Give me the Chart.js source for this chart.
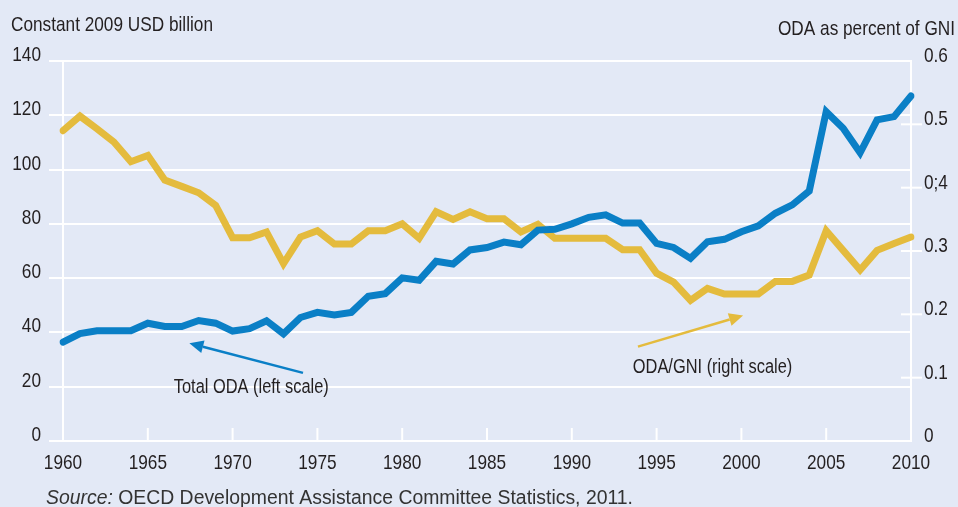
<!DOCTYPE html>
<html>
<head>
<meta charset="utf-8">
<script src="https://cdn.jsdelivr.net/npm/chart.js@4/dist/chart.umd.min.js"></script>
<style>
  html, body { margin: 0; padding: 0; background: #e3e9f6; }
  #wrap { width: 958px; height: 507px; position: relative; }
</style>
</head>
<body>
<div id="wrap"><canvas id="odaChart" width="958" height="507"></canvas></div>
<script>
// data
const years = [];
for (let y = 1960; y <= 2010; y++) years.push(y);

// total ODA, constant 2009 USD billion (left scale)
const totalOda = [
  36.4, 39.6, 40.6, 40.6, 40.6, 43.4, 42.2, 42.2, 44.4, 43.4,
  40.5, 41.4, 44.3, 39.5, 45.5, 47.4, 46.4, 47.4, 53.3, 54.3,
  60.1, 59.2, 66.2, 65.2, 70.4, 71.3, 73.3, 72.3, 77.7, 78.0,
  80.0, 82.4, 83.3, 80.3, 80.3, 72.8, 71.3, 67.3, 73.4, 74.3,
  77.1, 79.3, 83.9, 87.0, 92.1, 121.3, 115.2, 106.2, 118.3, 119.5,
  127.1
];

// ODA as percent of GNI (right scale)
const odaGni = [
  0.490, 0.513, 0.493, 0.472, 0.441, 0.451, 0.412, 0.402, 0.392, 0.372,
  0.321, 0.321, 0.330, 0.280, 0.322, 0.332, 0.311, 0.311, 0.332, 0.332,
  0.343, 0.320, 0.362, 0.350, 0.362, 0.351, 0.351, 0.330, 0.342, 0.320,
  0.320, 0.320, 0.320, 0.302, 0.302, 0.265, 0.251, 0.222, 0.241, 0.232,
  0.232, 0.232, 0.252, 0.252, 0.262, 0.332, 0.301, 0.270, 0.301, 0.312,
  0.322
];

const leftTicks = [0, 20, 40, 60, 80, 100, 120, 140];
const rightTicks = [0, 0.1, 0.2, 0.3, 0.4, 0.5, 0.6];
const rightTickLabels = ['0', '0.1', '0.2', '0.3', '0;4', '0.5', '0.6'];

const BLUE = '#0a7fc6';
const GOLD = '#e4bb3d';
const INK = '#231f20';
const SANS = "'Liberation Sans', Arial, sans-serif";

// no narrow font installed: squeeze Liberation Sans like Arial Narrow
function narrowText(ctx, text, x, y, align, size) {
  ctx.save();
  ctx.translate(x, y);
  ctx.scale(0.82, 1);
  ctx.font = size + 'px ' + SANS;
  ctx.textAlign = align;
  ctx.textBaseline = 'alphabetic';
  ctx.fillText(text, 0, 0);
  ctx.restore();
}

// small white tick marks inside the plot (x axis) and across the right axis
const innerTicks = {
  id: 'innerTicks',
  beforeDatasetsDraw(chart) {
    const { ctx, chartArea, scales } = chart;
    ctx.save();
    ctx.strokeStyle = '#ffffff';
    ctx.lineWidth = 2;
    years.forEach((yr, i) => {
      if (yr % 5 !== 0 || yr === 1960 || yr === 2010) return;
      const x = scales.x.getPixelForValue(i);
      ctx.beginPath();
      ctx.moveTo(x, chartArea.bottom);
      ctx.lineTo(x, chartArea.bottom - 13);
      ctx.stroke();
    });
    rightTicks.slice(1, -1).forEach(v => {
      const y = scales.y2.getPixelForValue(v);
      ctx.beginPath();
      ctx.moveTo(chartArea.right - 10, y);
      ctx.lineTo(chartArea.right + 11, y);
      ctx.stroke();
    });
    ctx.restore();
  }
};

function arrow(ctx, x1, y1, x2, y2, color) {
  const ang = Math.atan2(y2 - y1, x2 - x1);
  const len = 14, half = 6.5;
  const bx = x2 - len * Math.cos(ang), by = y2 - len * Math.sin(ang);
  ctx.strokeStyle = color;
  ctx.fillStyle = color;
  ctx.lineWidth = 2.5;
  ctx.beginPath();
  ctx.moveTo(x1, y1);
  ctx.lineTo(bx, by);
  ctx.stroke();
  ctx.beginPath();
  ctx.moveTo(x2, y2);
  ctx.lineTo(bx + half * Math.sin(ang), by - half * Math.cos(ang));
  ctx.lineTo(bx - half * Math.sin(ang), by + half * Math.cos(ang));
  ctx.closePath();
  ctx.fill();
}

const labelsAndNotes = {
  id: 'labelsAndNotes',
  afterDraw(chart) {
    const { ctx, scales, chartArea } = chart;
    const x = scales.x, y = scales.y, y2 = scales.y2;
    const xAt = yr => x.getPixelForValue(yr - 1960);
    ctx.save();
    ctx.fillStyle = INK;

    // tick labels
    leftTicks.forEach(v => narrowText(ctx, String(v), 41, y.getPixelForValue(v), 'right', 21));
    rightTicks.forEach((v, i) => narrowText(ctx, rightTickLabels[i], chartArea.right + 13, y2.getPixelForValue(v) + 1, 'left', 21));
    years.forEach((yr, i) => {
      if (yr % 5 === 0) narrowText(ctx, String(yr), x.getPixelForValue(i), 469, 'center', 21);
    });

    // axis titles
    narrowText(ctx, 'Constant 2009 USD billion', 11, 30.5, 'left', 21);
    narrowText(ctx, 'ODA as percent of GNI', 955, 35, 'right', 21);

    // series labels with arrows
    arrow(ctx, xAt(1974.15), y.getPixelForValue(25.1), xAt(1967.45), y.getPixelForValue(36.0), BLUE);
    arrow(ctx, xAt(1993.9), y2.getPixelForValue(0.149), xAt(2000.1), y2.getPixelForValue(0.198), GOLD);
    ctx.fillStyle = INK;
    narrowText(ctx, 'Total ODA (left scale)', xAt(1971.1), y.getPixelForValue(17.6), 'center', 20);
    narrowText(ctx, 'ODA/GNI (right scale)', xAt(1998.3), y2.getPixelForValue(0.107), 'center', 20);

    // source line
    ctx.fillStyle = '#333333';
    ctx.textAlign = 'left';
    ctx.textBaseline = 'alphabetic';
    ctx.font = 'italic 19.4px ' + SANS;
    const src = 'Source:';
    ctx.fillText(src, 46, 504);
    const w = ctx.measureText(src + ' ').width;
    ctx.font = '19.4px ' + SANS;
    ctx.fillText('OECD Development Assistance Committee Statistics, 2011.', 46 + w, 504);
    ctx.restore();
  }
};

const ctx = document.getElementById('odaChart').getContext('2d');
const chart = new Chart(ctx, {
  type: 'line',
  data: {
    labels: years,
    datasets: [
      {
        label: 'ODA/GNI (right scale)',
        data: odaGni,
        yAxisID: 'y2',
        borderColor: GOLD,
        borderWidth: 7,
        pointRadius: 0,
        tension: 0,
        borderJoinStyle: 'miter',
        borderCapStyle: 'round',
        order: 2
      },
      {
        label: 'Total ODA (left scale)',
        data: totalOda,
        yAxisID: 'y',
        borderColor: BLUE,
        borderWidth: 7,
        pointRadius: 0,
        tension: 0,
        borderJoinStyle: 'miter',
        borderCapStyle: 'round',
        order: 1
      }
    ]
  },
  options: {
    responsive: false,
    animation: false,
    layout: { padding: { top: 61, left: 0, right: 0, bottom: 0 } },
    plugins: {
      legend: { display: false },
      tooltip: { enabled: false }
    },
    scales: {
      x: {
        type: 'category',
        offset: false,
        grid: { drawOnChartArea: false, drawTicks: false },
        border: { display: true, color: '#ffffff', width: 2 },
        ticks: { display: false, autoSkip: false },
        afterFit: s => { s.height = 66; }
      },
      y: {
        position: 'left',
        min: 0,
        max: 140,
        afterBuildTicks: s => { s.ticks = leftTicks.map(v => ({ value: v })); },
        grid: { color: '#ffffff', lineWidth: 2, tickLength: 14, tickColor: '#ffffff' },
        border: { display: true, color: '#ffffff', width: 2 },
        ticks: { display: false },
        afterFit: s => { s.width = 63; }
      },
      y2: {
        position: 'right',
        min: 0,
        max: 0.6,
        afterBuildTicks: s => { s.ticks = rightTicks.map(v => ({ value: v })); },
        grid: { drawOnChartArea: false, drawTicks: false },
        border: { display: true, color: '#ffffff', width: 2 },
        ticks: { display: false },
        afterFit: s => { s.width = 47; }
      }
    }
  },
  plugins: [innerTicks, labelsAndNotes]
});
</script>
</body>
</html>
